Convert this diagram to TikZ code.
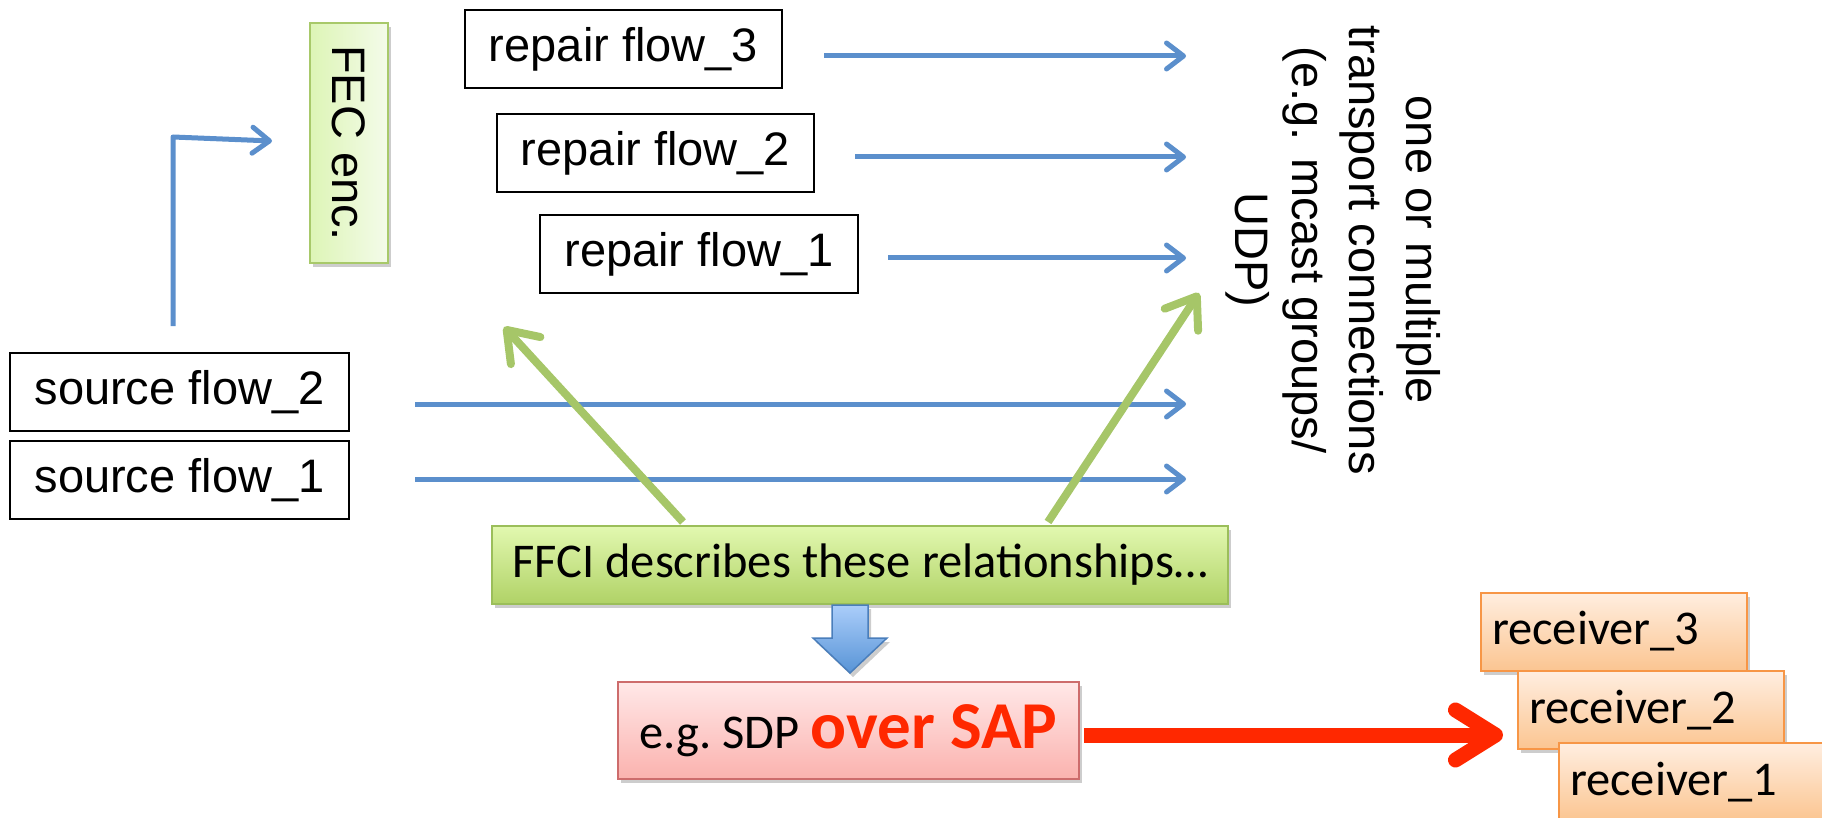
\documentclass[tikz,border=0pt]{standalone}
\usepackage{fontspec}
\setmainfont{Liberation Sans}
\newfontfamily\calibri{Carlito}
\usepackage{graphicx}
\usetikzlibrary{arrows.meta,shadows,calc}

\definecolor{flowblue}{RGB}{91,143,204}
\definecolor{relgreen}{RGB}{166,198,104}
\definecolor{sapred}{RGB}{255,40,0}
\definecolor{fecfillA}{RGB}{221,245,182}
\definecolor{fecfillB}{RGB}{244,251,234}
\definecolor{fecline}{RGB}{168,201,106}
\definecolor{ffcitop}{RGB}{226,248,176}
\definecolor{ffcibot}{RGB}{176,210,102}
\definecolor{ffciline}{RGB}{155,190,90}
\definecolor{sdptop}{RGB}{255,232,232}
\definecolor{sdpbot}{RGB}{251,178,174}
\definecolor{sdpline}{RGB}{205,108,108}
\definecolor{rcvtop}{RGB}{255,238,224}
\definecolor{rcvbot}{RGB}{251,197,145}
\definecolor{rcvline}{RGB}{247,150,70}
\definecolor{bartop}{RGB}{170,205,250}
\definecolor{barbot}{RGB}{88,148,214}
\definecolor{barline}{RGB}{74,126,187}

\newcommand\arialbig{\fontsize{47}{57}\selectfont}
\newcommand\calibribig{\calibri\fontsize{48.5}{56}\selectfont}

\tikzset{
  softshadow/.style={drop shadow={shadow xshift=3pt,shadow yshift=-4pt,opacity=.28,fill=black!70}},
  flowbox/.style={draw=black,line width=2pt,fill=white,inner sep=0pt,
    minimum height=78pt,font=\arialbig},
  fecbox/.style={draw=fecline,line width=2pt,left color=fecfillA,right color=fecfillB,
    inner sep=0pt,minimum width=78pt,minimum height=240pt,font=\arialbig,softshadow},
  ffcibox/.style={draw=ffciline,line width=2pt,top color=ffcitop,bottom color=ffcibot,
    inner sep=0pt,minimum width=736pt,minimum height=78pt,font=\calibribig,softshadow},
  sdpbox/.style={draw=sdpline,line width=2pt,top color=sdptop,bottom color=sdpbot,
    inner sep=0pt,minimum width=461pt,minimum height=97pt,softshadow},
  rcvbox/.style={draw=rcvline,line width=2pt,top color=rcvtop,bottom color=rcvbot,
    inner sep=0pt,minimum width=266pt,minimum height=78pt,font=\calibribig,softshadow,
    text width=244pt,align=left,inner xsep=11pt},
  flowarrow/.style={draw=flowblue,line width=5pt,
    -{Straight Barb[length=17pt,width=26pt,round]}},
  relarrow/.style={draw=relgreen,line width=8pt,
    -{Straight Barb[length=28pt,width=40pt,round]}},
  sendarrow/.style={draw=sapred,line width=15pt,
    -{Straight Barb[length=40pt,width=50pt,round]}},
  blockarrow/.style={draw=barline,line width=1.5pt,top color=bartop,bottom color=barbot,
    line join=miter,softshadow},
}

\begin{document}
\begin{tikzpicture}[x=1pt,y=-1pt]
\useasboundingbox (0,0) rectangle (1822,818);
\clip (0,0) rectangle (1822,818);

% encoder
\node[fecbox] (fec) at (349,143) {\rotatebox{-90}{FEC enc.}};

% repair flows
\node[flowbox,minimum width=317pt] (rf3) at (623.5,49.5) {repair flow\_3};
\node[flowbox,minimum width=317pt] (rf2) at (655.5,153) {repair flow\_2};
\node[flowbox,minimum width=318pt] (rf1) at (699,254) {repair flow\_1};

% source flows
\node[flowbox,minimum width=339pt] (sf2) at (179.5,392) {source flow\_2};
\node[flowbox,minimum width=339pt] (sf1) at (179.5,480) {source flow\_1};

% transport connections label
\node[rotate=-90,align=center,font=\arialbig,inner sep=0pt] (tc) at (1333,250)
  {one or multiple\\transport connections\\(e.g. mcast groups/\\UDP)};

% end points of the flows
\coordinate (t3) at (1186,56);
\coordinate (t2) at (1186,157);
\coordinate (t1) at (1186,258);
\coordinate (s2) at (1186,404);
\coordinate (s1) at (1186,479);

% source flow into the encoder
\coordinate (e0) at (173,326);
\coordinate (e1) at (272,141);
\draw[flowarrow,line join=round] (e0) -- (173,137) -- (e1);

% flows towards the transport connections
\draw[flowarrow] ($(rf3.east)+(41,6.5)$) -- (t3);
\draw[flowarrow] ($(rf2.east)+(40,4)$) -- (t2);
\draw[flowarrow] ($(rf1.east)+(29,4)$) -- (t1);
\draw[flowarrow] ($(sf2.east)+(65,12)$) -- (s2);
\draw[flowarrow] ($(sf1.east)+(65,-1)$) -- (s1);

% FFCI
\node[ffcibox] (ffci) at (860,565) {FFCI describes these relationships…};
\coordinate (ga) at (504,327);
\coordinate (gb) at (1199,293);
\draw[relarrow] ($(ffci.north)+(-177,-3)$) -- (ga);
\draw[relarrow] ($(ffci.north)+(188,-3)$) -- (gb);

% SDP over SAP
\node[sdpbox] (sdp) at (848.5,730.5)
  {\calibribig e.g.\ SDP \textcolor{sapred}{\fontsize{67}{72}\selectfont\bfseries over SAP}};

% block arrow from FFCI to SDP
\coordinate (ba) at ($(sdp.north)+(1.5,-8)$);
\path[blockarrow] (ba) ++(0,0) -- ++(-37,-35) -- ++(19,0) -- ++(0,-33) -- ++(36,0)
  -- ++(0,33) -- ++(19,0) -- cycle;

% receivers
\node[rcvbox] (r3) at (1614,631.5) {receiver\_3};
\node[rcvbox] (r2) at (1651,710) {receiver\_2};
\node[rcvbox] (r1) at (1692,782) {receiver\_1};

\coordinate (rt) at (1503,735);
\draw[sendarrow] ($(sdp.east)+(4,4.5)$) -- (rt);
\end{tikzpicture}
\end{document}
